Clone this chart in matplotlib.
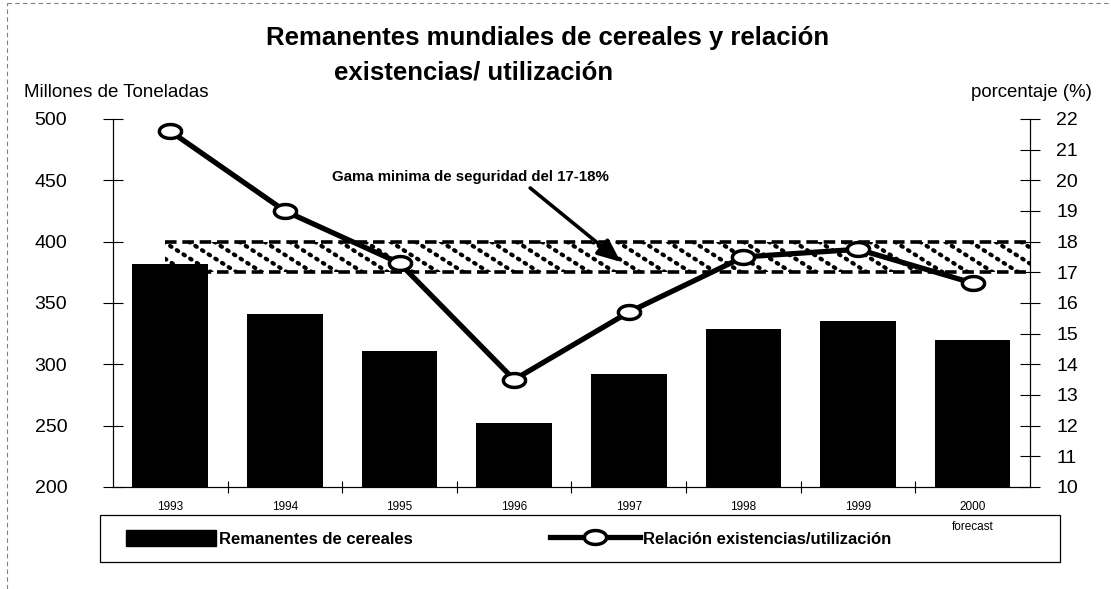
import numpy as np
import matplotlib

matplotlib.use("Agg")
import matplotlib.pyplot as plt
from matplotlib.path import Path
from matplotlib.patches import Rectangle, Patch
from matplotlib.lines import Line2D

# data
years = ["1993", "1994", "1995", "1996", "1997", "1998", "1999", "2000"]
stocks = [382, 341, 311, 252, 292, 329, 335, 320]  # millones de toneladas
ratio = [21.6, 19.0, 17.3, 13.5, 15.7, 17.5, 17.75, 16.65]  # porcentaje
band_low, band_high = 17, 18
left_ticks = [200, 250, 300, 350, 400, 450, 500]
right_ticks = list(range(10, 23))

plt.rcParams["font.family"] = ["Liberation Sans", "DejaVu Sans"]

fig = plt.figure(figsize=(11.11, 5.89), dpi=100)
ax = fig.add_axes([0.1017, 0.1732, 0.8253, 0.6248])
x = np.arange(len(years))

ax.bar(x, stocks, width=0.66, color="black", zorder=2)
ax.set_xlim(-0.5, len(years) - 0.5)
ax.set_ylim(200, 500)
ax.set_yticks(left_ticks)
ax.set_xticks(x)
ax.set_xticklabels(years)
ax.set_xticks(x[:-1] + 0.5, minor=True)
ax.tick_params(axis="x", which="major", length=0, pad=10, labelsize=8.5)
ax.tick_params(axis="x", which="minor", direction="inout", length=8, width=0.8)
ax.tick_params(axis="y", direction="inout", length=14, width=0.8, pad=26, labelsize=14)
ax.spines["top"].set_visible(False)
for s in ("left", "bottom", "right"):
    ax.spines[s].set_linewidth(0.8)
ax.text(len(years) - 1, -0.11, "forecast", transform=ax.get_xaxis_transform(),
        ha="center", va="center", fontsize=8.5)

ax2 = ax.twinx()
ax2.set_ylim(10, 22)
ax2.set_yticks(right_ticks)
ax2.tick_params(axis="y", direction="inout", length=14, width=0.8, pad=12, labelsize=14)
ax2.spines["top"].set_visible(False)
ax2.spines["right"].set_linewidth(0.8)

# minimum safety band, dotted diagonal hatch between dashed borders
x0 = -0.05
band = Rectangle((x0, band_low), len(years) - 0.5 - x0, band_high - band_low,
                 facecolor="none", edgecolor="none")
ax2.add_patch(band)
for c in np.arange(x0 - 0.45, len(years), 0.22):
    ln, = ax2.plot([c, c + 0.42], [band_high, band_low], color="black", lw=3.0,
                   linestyle=(0, (0.4, 1.5)), dash_capstyle="round", zorder=3)
    ln.set_clip_path(band)
ax2.hlines([band_low, band_high], x0, len(years) - 0.5, colors="black", lw=2.6,
           linestyles=[(0, (3.2, 1.6))], zorder=3)

theta = np.linspace(0, 2 * np.pi, 60)
ellipse = Path(np.column_stack([1.6 * np.cos(theta), np.sin(theta)]))
ax2.plot(x, ratio, color="black", lw=3.8, marker=ellipse, markersize=16,
         markerfacecolor="white", markeredgecolor="black", markeredgewidth=2.5,
         zorder=5, clip_on=False)

ax2.text(2.62, 20.1, "Gama minima de seguridad del 17-18%", ha="center", va="center",
         fontsize=10.8, fontweight="bold")
ax2.annotate("", xy=(3.93, 17.34), xytext=(3.14, 19.75),
             arrowprops=dict(arrowstyle="-|>,head_length=1.4,head_width=0.6",
                             color="black", lw=2.6, shrinkA=0, shrinkB=0))

# titles and axis captions
fig.text(0.493, 0.935, "Remanentes mundiales de cereales y relación",
         ha="center", va="center", fontsize=18.5, fontweight="bold")
fig.text(0.301, 0.877, "existencias/ utilización", ha="left", va="center",
         fontsize=18.5, fontweight="bold")
fig.text(0.022, 0.843, "Millones de Toneladas", ha="left", va="center", fontsize=13.5)
fig.text(0.983, 0.843, "porcentaje (%)", ha="right", va="center", fontsize=13.4)

# legend in a box under the chart
fig.add_artist(Rectangle((0.09, 0.046), 0.864, 0.08, transform=fig.transFigure,
                         facecolor="none", edgecolor="black", lw=0.9))
handles = [
    Patch(facecolor="black", edgecolor="black"),
    Line2D([], [], color="black", lw=3.8, marker=ellipse, markersize=16,
           markerfacecolor="white", markeredgecolor="black", markeredgewidth=2.5),
]
fig.legend(handles, ["Remanentes de cereales", "Relación existencias/utilización"],
           loc="center left", bbox_to_anchor=(0.1, 0.086), ncol=2, frameon=False,
           handlelength=5.4, handleheight=1.1, handletextpad=0.2, columnspacing=8.2,
           prop=dict(size=12, weight="bold"))

# dashed page border
fig.add_artist(Line2D([0.006, 0.006], [0, 0.995], transform=fig.transFigure,
                      color="gray", lw=0.8, linestyle=(0, (4, 3))))
fig.add_artist(Line2D([0.006, 1], [0.995, 0.995], transform=fig.transFigure,
                      color="gray", lw=0.8, linestyle=(0, (4, 3))))

fig.savefig("out.png", dpi=100)
